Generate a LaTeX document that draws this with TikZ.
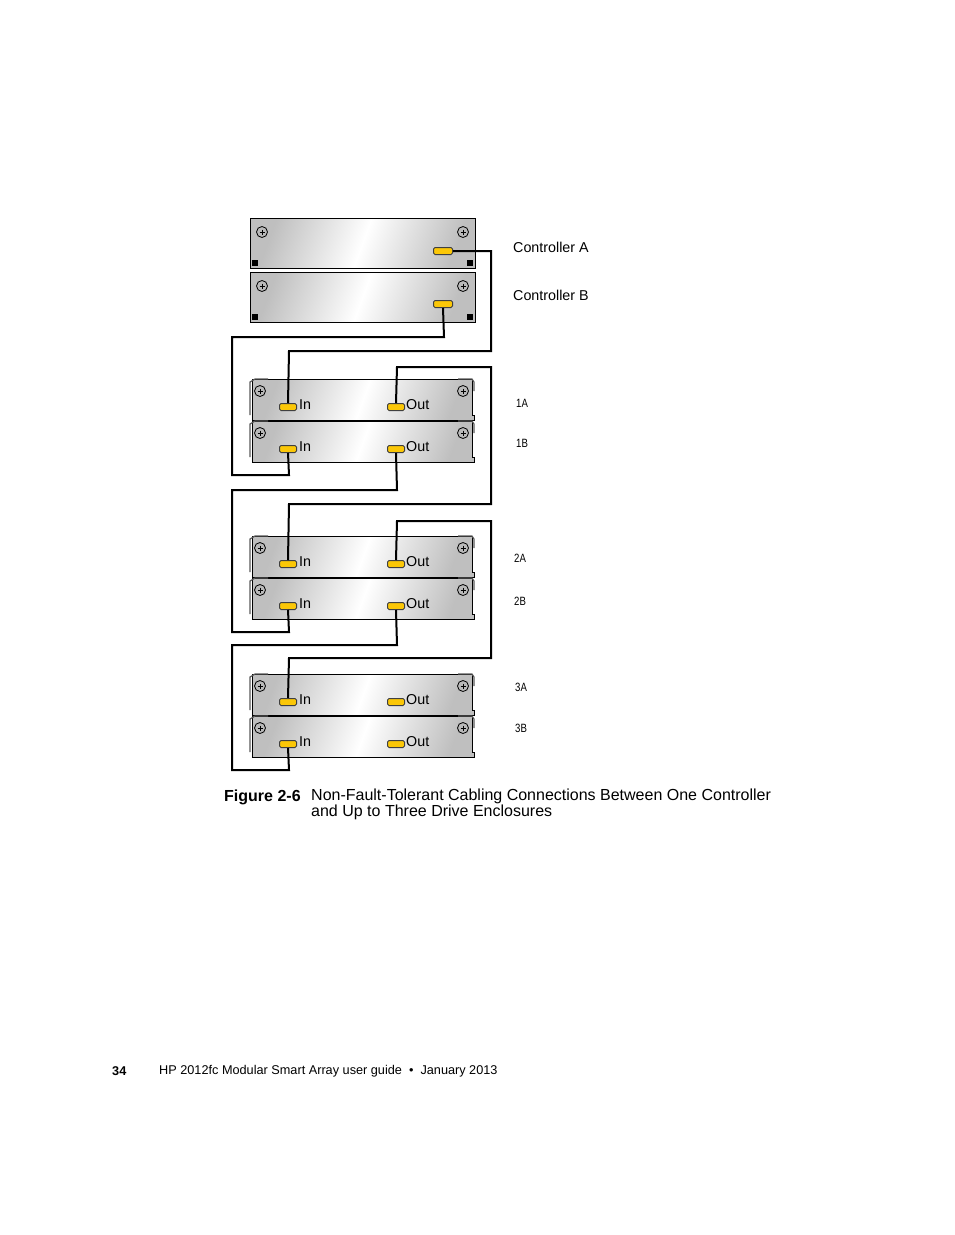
\documentclass[tikz,border=0pt]{standalone}
\usepackage{fontspec}
\setmainfont{Liberation Sans}
\newfontfamily\condfont[FakeStretch=0.8]{Liberation Sans}
\begin{document}
\begin{tikzpicture}[x=1pt,y=-1pt,
  wire/.style={line width=2pt},
  unitbox/.style={draw=black,line width=0.8pt,left color=gray!50,right color=gray!50,middle color=white,shading angle=70},
  port/.style={draw=black!75,line width=1pt,fill=yellow!60!orange,rounded corners=1.5pt,minimum width=17pt,minimum height=7pt,inner sep=0pt},
  lbl/.style={anchor=west,font=\fontsize{14.3}{16}\selectfont,inner sep=0pt},
  sm/.style={anchor=west,font=\fontsize{12}{14}\selectfont\condfont,inner sep=0pt},
  screw/.style={draw=black,line width=0.8pt,fill=gray!55,circle,minimum size=11pt,inner sep=0pt,
    path picture={\draw[black,line width=0.6pt] (path picture bounding box.center) ++(-2.5,0) -- ++(5,0) ++(-2.5,-2.5) -- ++(0,5);}}]
\useasboundingbox (0,0) rectangle (954,1235);
% controllers
\foreach \n/\t in {ca/218,cb/272}{
  \shade[unitbox] (250,\t) rectangle (475,\t+50);
  \node[screw] at (262,\t+14) {};
  \node[screw] at (463,\t+14) {};
  \fill (252,\t+42) rectangle (258,\t+48);
  \fill (467,\t+42) rectangle (473,\t+48);
}
\node[port,minimum width=19pt] (pca) at (443,251) {};
\node[port,minimum width=19pt] (pcb) at (443,304) {};
% drive enclosures
\foreach \n/\t in {a1/379,b1/421,a2/536,b2/578,a3/674,b3/716}{
  \shade[unitbox] (252,\t) -- (472,\t) -- (472,\t+36) -- (474,\t+36) -- (474,\t+41) -- (252,\t+41) -- cycle;
  \draw[line width=1.2pt,gray!70!black] (250,\t+36) -- (250,\t+3) -- (255,\t) -- (268,\t);
  \draw[line width=1.2pt,gray!70!black] (458,\t) -- (472,\t) -- (474,\t+3) -- (474,\t+12);
  \node[screw] at (260,\t+12) {};
  \node[screw] at (463,\t+12) {};
  \node[port] (in\n) at (288,\t+28) {};
  \node[port] (out\n) at (396,\t+28) {};
  \node[lbl] at (299,\t+26) {In};
  \node[lbl] at (406,\t+26) {Out};
}
% wires
\draw[wire] (pca.east) -- (491,251) -- (491,351) -- (289,351) -- (ina1.north);
\draw[wire] (pcb.south) -- (444,337) -- (232,337) -- (232,475) -- (289,475) -- (inb1.south);
\draw[wire] (outa1.north) -- (397,367) -- (491,367) -- (491,504) -- (289,504) -- (ina2.north);
\draw[wire] (outb1.south) -- (397,490) -- (232,490) -- (232,632) -- (289,632) -- (inb2.south);
\draw[wire] (outa2.north) -- (397,521) -- (491,521) -- (491,658) -- (289,658) -- (ina3.north);
\draw[wire] (outb2.south) -- (397,645) -- (232,645) -- (232,770) -- (289,770) -- (inb3.south);
% labels
\node[lbl] at (513,247) {Controller A};
\node[lbl] at (513,295) {Controller B};
\node[sm] at (516,403) {1A};
\node[sm] at (516,443) {1B};
\node[sm] at (514,558) {2A};
\node[sm] at (514,601) {2B};
\node[sm] at (515,687) {3A};
\node[sm] at (515,728) {3B};
\node[lbl,font=\fontsize{16}{16}\selectfont\bfseries] at (224,797) {Figure 2-6};
\node[lbl,font=\fontsize{16}{16}\selectfont,align=left,anchor=north west] at (311,789) {Non-Fault-Tolerant Cabling Connections Between One Controller\\and Up to Three Drive Enclosures};
\node[lbl,font=\fontsize{12.7}{14}\selectfont\bfseries] at (112,1071) {34};
\node[lbl,font=\fontsize{12.7}{14}\selectfont] at (159,1071) {HP 2012fc Modular Smart Array user guide \ \textbullet\ \ January 2013};
\end{tikzpicture}
\end{document}
